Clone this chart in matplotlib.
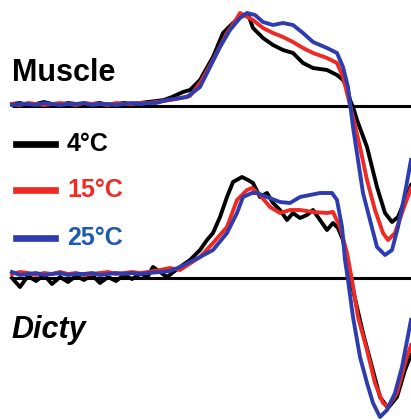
#Muscle vs Dicty traces at three temperatures
import matplotlib.pyplot as plt
from matplotlib.lines import Line2D

plt.rcParams['font.family'] = ['Liberation Sans', 'DejaVu Sans']

# time axis shared by the flat start of every trace
flat_t = [0, 2, 4, 6, 8, 10, 12, 14, 16, 18, 20, 22, 24, 26, 28, 30, 32, 34]

# Muscle traces (arbitrary units, baseline = 0)
muscle_black_t = flat_t + [36, 38, 40, 42.75, 44.5, 47, 50.25, 52.75, 55.25, 57.75, 59, 60.25, 62.75, 65.25,
                           67.75, 70.25, 72.75, 75.25, 78.75, 81.25, 82.75, 83.75, 84.5, 85.25, 86.25, 88.75,
                           91.25, 93.25, 95, 96.5, 98.25, 99.75]
muscle_black_s = [2, 3, 1, 2, 4, 2, 1, 3, 2, 1, 2, 3, 1, 2, 3, 2, 3, 4] + \
                 [5, 6, 9, 14, 16, 26, 49, 73, 83, 91, 92, 78, 68, 61, 56, 53, 43, 38, 36, 31, 26, 19, 6, -1,
                  -14, -41, -81, -107, -116, -111, -94, -79]

muscle_red_t = flat_t + [36, 38, 41, 44.5, 47, 50.25, 53.75, 56.25, 57, 60.25, 62.75, 65.25, 67.75, 70.25, 72.75,
                         75.25, 78.75, 81.25, 82.75, 83.75, 85.25, 87, 88.75, 90.75, 92.75, 94, 95.75, 97.75, 99.75]
muscle_red_s = [2, 1, 3, 2, 1, 2, 3, 2, 1, 3, 2, 2, 1, 3, 2, 2, 3, 3] + \
               [4, 5, 7, 10, 23, 46, 73, 88, 93, 86, 78, 73, 69, 64, 58, 53, 48, 43, 29, 13, -11, -41, -74,
                -104, -127, -134, -127, -104, -82]

muscle_blue_t = flat_t + [36, 38.75, 43.75, 47, 49.5, 52, 54.5, 57, 58.75, 60.75, 62.75, 65.25, 67.75, 70.25, 72.75,
                          75.25, 78.75, 81.25, 82.75, 84, 84.5, 85.25, 86.5, 87.75, 89.5, 91.25, 93.25, 95, 96.5,
                          98.25, 99.75]
muscle_blue_s = [1, 2, 2, 1, 3, 2, 1, 2, 2, 3, 1, 2, 2, 1, 2, 3, 2, 3] + \
                [3, 6, 9, 19, 39, 59, 76, 88, 93, 91, 84, 81, 83, 81, 73, 64, 58, 53, 39, 19, 3, -21, -54, -87,
                 -114, -141, -149, -144, -121, -87, -54]

# Dicty traces (arbitrary units, baseline = 0)
dicty_black_t = flat_t + [35.25, 37, 38.75, 42, 44.5, 47, 48.75, 50.25, 52, 53.75, 55.25, 57.5, 59, 60.25, 62,
                          63.75, 65.25, 67, 68.75, 70.25, 72, 73.75, 75.25, 77, 78.75, 80.25, 81.5, 82.75, 83.75,
                          84.5, 85.25, 87.75, 90, 92, 94, 96.25, 98.25, 99.75]
dicty_black_s = [0, -9, 2, -3, 3, -6, 1, -4, 2, -2, 3, -5, 1, -3, 3, -1, 4, 2] + \
                [11, 6, 1, 11, 18, 28, 38, 45, 61, 81, 96, 101, 98, 95, 81, 85, 75, 68, 58, 65, 60, 63, 68, 58,
                 48, 55, 50, 38, 18, 0, -12, -55, -89, -119, -130, -119, -92, -77]

dicty_red_t = flat_t + [37, 39.5, 42, 47, 50.25, 53.75, 56.25, 58.75, 60, 62, 64.5, 67, 69.5, 72, 75.25, 78.75,
                        80.25, 82, 83.75, 85, 86.5, 88.75, 90.75, 92.75, 94, 96.25, 98.25, 99.75]
dicty_red_s = [4, 6, 5, 3, 5, 4, 6, 4, 5, 3, 4, 5, 6, 4, 5, 6, 5, 6] + \
              [8, 10, 8, 21, 35, 51, 78, 88, 90, 83, 71, 65, 68, 68, 66, 65, 66, 51, 25, -2, -39, -72, -105,
               -125, -129, -115, -85, -67]

dicty_blue_t = flat_t + [37, 39.5, 42, 47, 50.25, 53.75, 56.25, 57.75, 60, 61.25, 63.75, 67, 69.5, 72, 74.5, 77,
                         80, 81.25, 82.5, 83.25, 84, 85.25, 87, 88.75, 90.25, 92, 93.75, 95.75, 97.5, 99.75]
dicty_blue_s = [6, 3, 4, 5, 3, 4, 5, 3, 4, 4, 5, 3, 4, 5, 4, 5, 4, 5] + \
               [6, 7, 11, 21, 28, 45, 65, 81, 85, 85, 81, 76, 75, 81, 83, 85, 85, 78, 51, 18, -2, -39, -79, -105,
                -125, -139, -132, -115, -89, -42]

labels = ['4°C', '15°C', '25°C']
line_colors = ['black', '#ee2a24', '#2d3db0']
text_colors = ['black', '#ee2a24', '#1c5aac']

fig = plt.figure(figsize=(4.11, 4.2), dpi=100)

# two transparent axes over the whole figure, one per panel
ax_top = fig.add_axes([0, 0, 1, 1])
ax_bot = fig.add_axes([0, 0, 1, 1])
for ax in (ax_top, ax_bot):
    ax.set_xlim(-3, 99.75)
    ax.axis('off')
    ax.patch.set_alpha(0)
ax_top.set_ylim(-314, 106)
ax_bot.set_ylim(-142, 278)

ax_top.hlines(0, 0, 99.75, color='black', lw=2.2)
ax_bot.hlines(0, 0, 99.75, color='black', lw=2.2)

for t, s, c in [(muscle_black_t, muscle_black_s, line_colors[0]),
                (muscle_red_t, muscle_red_s, line_colors[1]),
                (muscle_blue_t, muscle_blue_s, line_colors[2])]:
    ax_top.plot(t, s, color=c, lw=2.8, solid_joinstyle='round')

for t, s, c in [(dicty_black_t, dicty_black_s, line_colors[0]),
                (dicty_red_t, dicty_red_s, line_colors[1]),
                (dicty_blue_t, dicty_blue_s, line_colors[2])]:
    ax_bot.plot(t, s, color=c, lw=2.8, solid_joinstyle='round')

# panel names
fig.text(0.029, 0.826, 'Muscle', fontsize=22, fontweight='bold', va='center', ha='left')
fig.text(0.029, 0.214, 'Dicty', fontsize=22, fontweight='bold', style='italic', va='center', ha='left')

# hand drawn legend
legend_y = [0.657, 0.548, 0.433]
for lab, lc, tc, y in zip(labels, line_colors, text_colors, legend_y):
    fig.add_artist(Line2D([0.039, 0.134], [y, y], color=lc, lw=4.8, transform=fig.transFigure))
    fig.text(0.163, y, lab, fontsize=18, fontweight='bold', color=tc, va='center', ha='left')

plt.savefig('out.png', dpi=100)
